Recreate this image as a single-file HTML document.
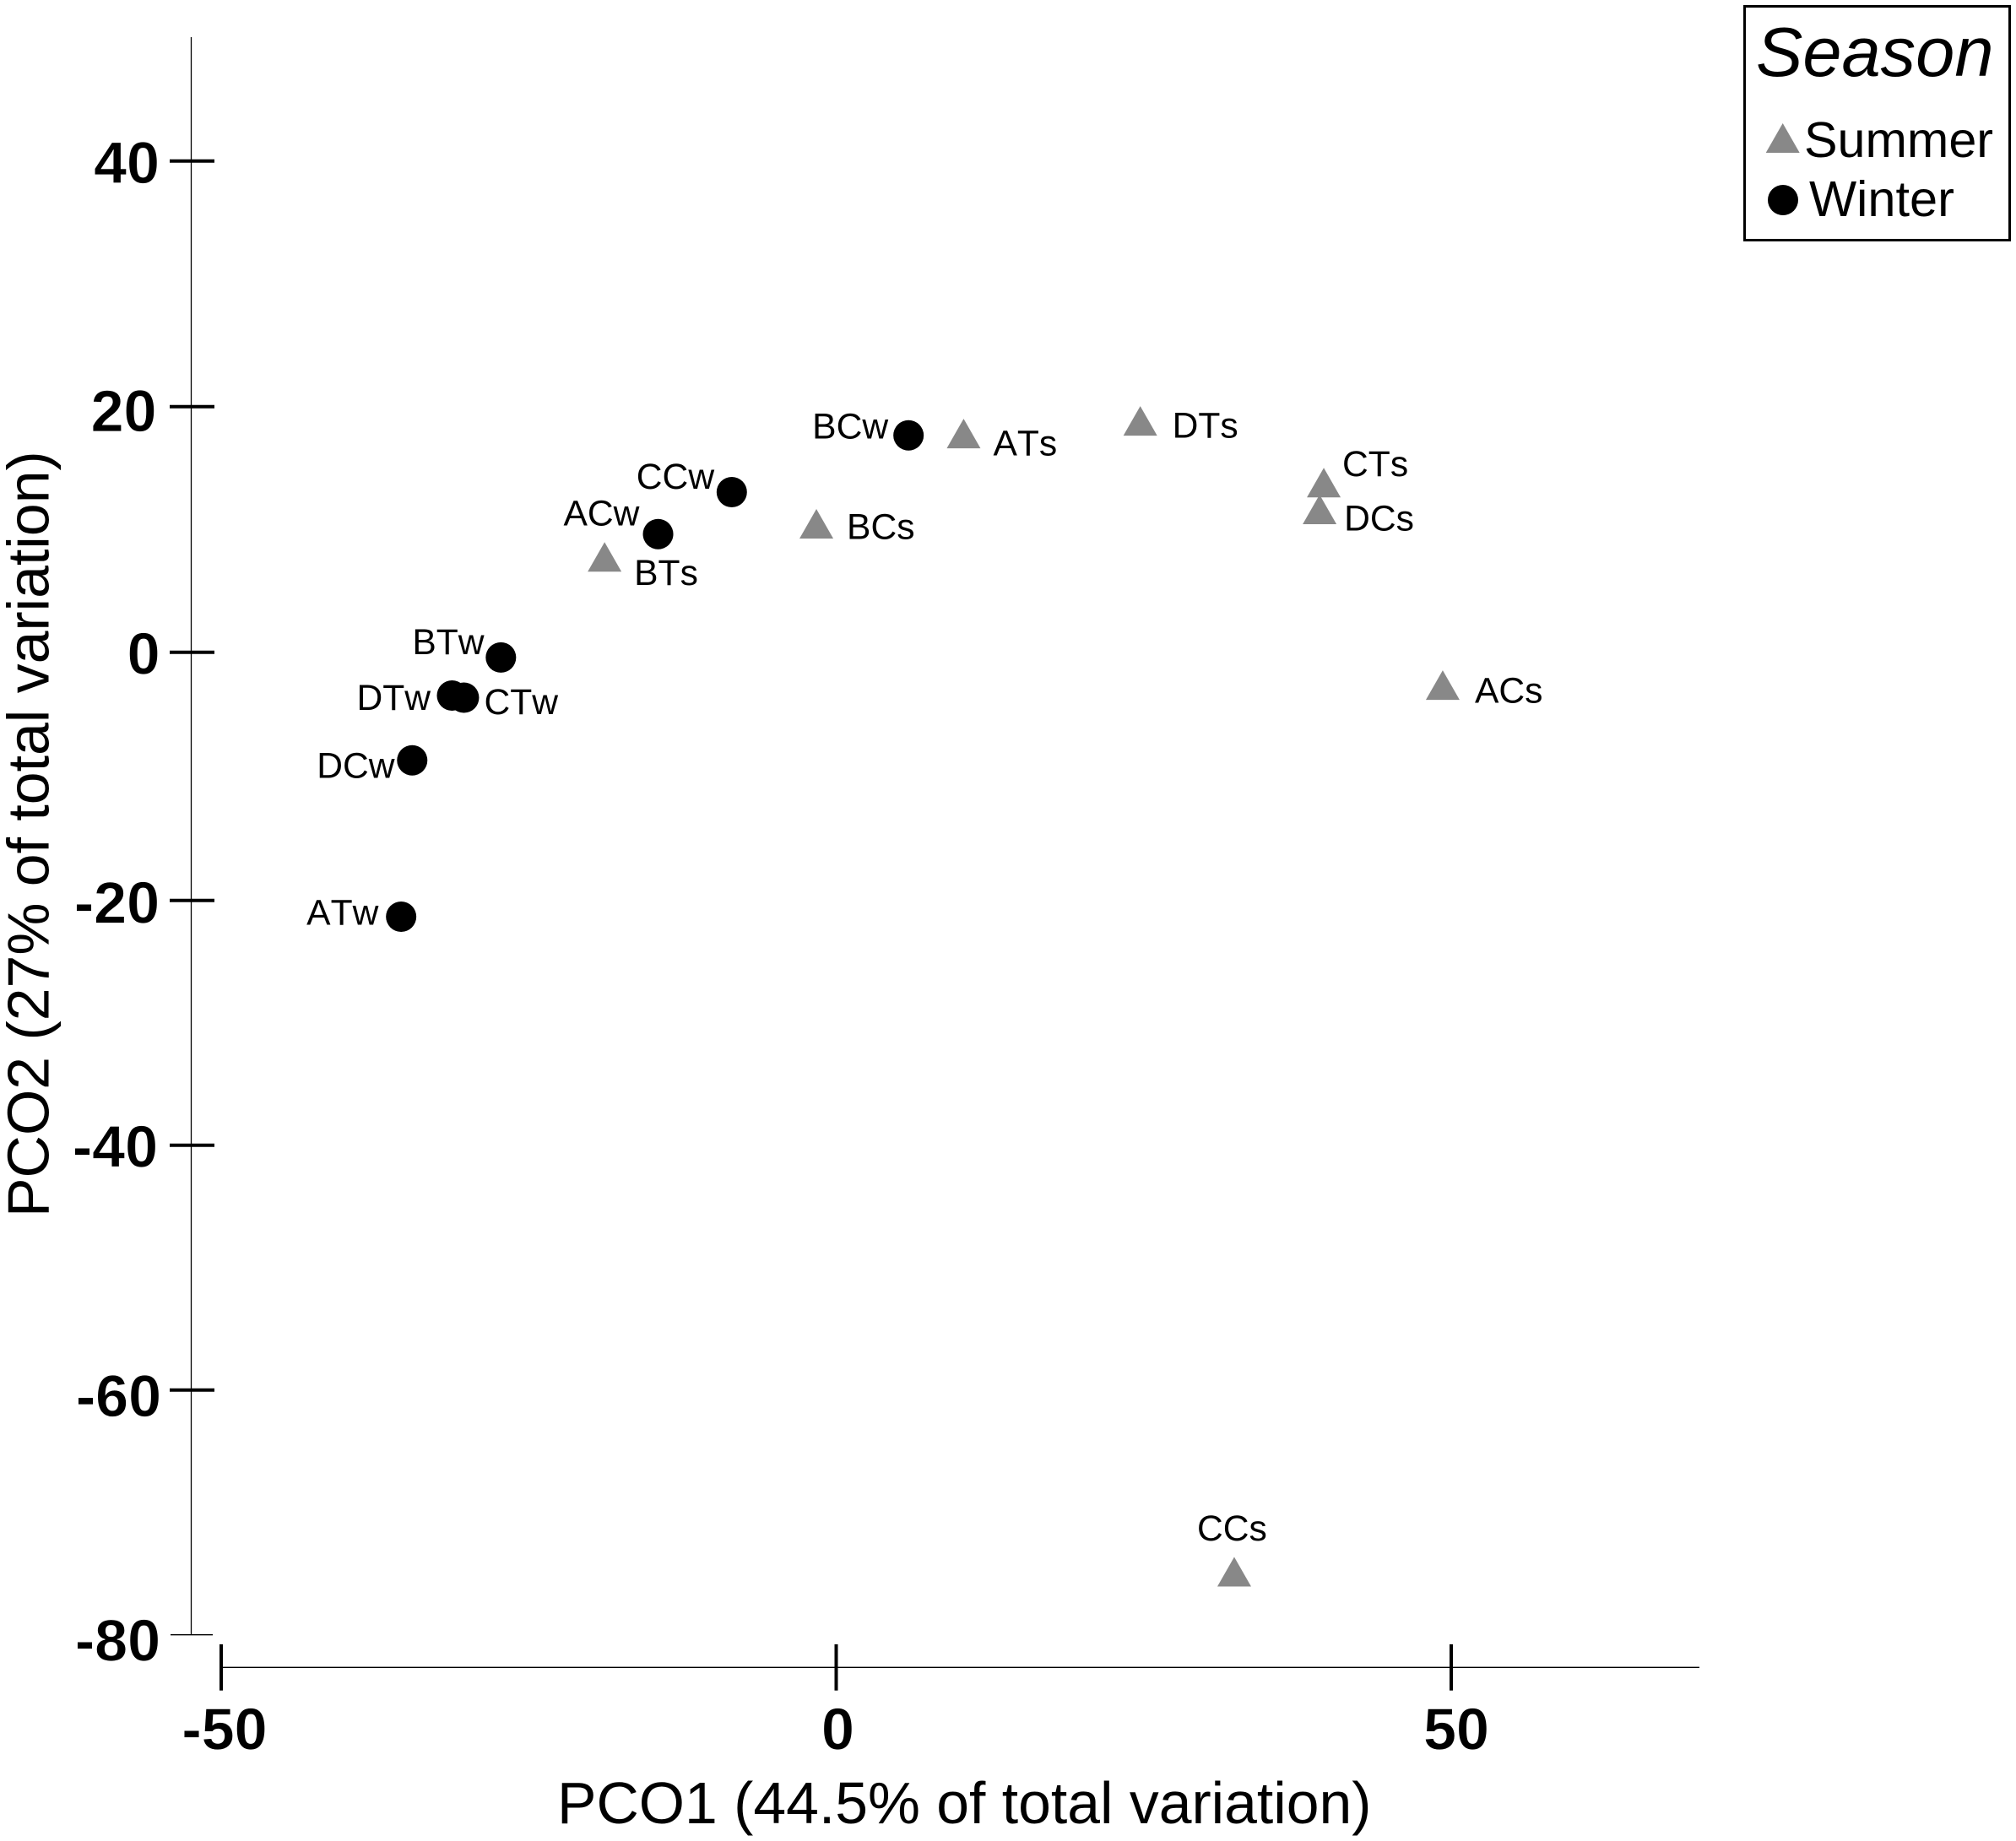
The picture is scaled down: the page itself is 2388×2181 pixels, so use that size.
<!DOCTYPE html>
<html lang="en">
<head>
<meta charset="utf-8">
<title>PCO ordination by season</title>
<style>
html,body{margin:0;padding:0;background:#fff;width:2388px;height:2181px;overflow:hidden}
svg{display:block;font-family:"Liberation Sans",Arial,sans-serif;font-kerning:none}
text{font-kerning:none}
</style>
</head>
<body>
<svg id="chart" xmlns="http://www.w3.org/2000/svg" width="2388" height="2181" viewBox="0 0 2388 2181">
  <rect x="0" y="0" width="2388" height="2181" fill="#fff"/>
  <line x1="226.5" y1="44" x2="226.5" y2="1937" stroke="#000" stroke-width="1.3"/>
  <line x1="262" y1="1975.3" x2="2013" y2="1975.3" stroke="#000" stroke-width="1.3"/>
  <g id="axes"></g>
  <g id="marks"></g>
  <text x="660" y="2160" font-size="69.7" fill="#000">PCO1 (44.5% of total variation)</text>
  <text transform="translate(57.3 1442) rotate(-90)" font-size="69.8" fill="#000">PCO2 (27% of total variation)</text>
  <g>
    <rect x="2066.5" y="7.5" width="314" height="277" fill="#fff" stroke="#000" stroke-width="3"/>
    <text x="2080" y="90" font-size="83" font-style="italic" fill="#000">Season</text>
    <polygon points="2111.7,146 2131.7,181 2091.7,181" fill="#888"/>
    <text x="2137" y="186" font-size="59.3" fill="#000">Summer</text>
    <circle cx="2112" cy="237" r="18" fill="#000"/>
    <text x="2143" y="256" font-size="59.5" fill="#000">Winter</text>
  </g>
</svg>
<script>
const xTicks = [-50, 0, 50];
const yTicks = [-80, -60, -40, -20, 0, 20, 40];

const winterNames = ['CCw', 'ACw', 'BTw', 'DTw', 'CTw', 'DCw', 'ATw', 'BCw'];
const winterPCO1 = [-8.49, -14.48, -27.26, -31.23, -30.27, -34.47, -35.37, 5.88];
const winterPCO2 = [13.04, 9.62, -0.42, -3.49, -3.66, -8.71, -21.33, 17.66];

const summerNames = ['BTs', 'ATs', 'DTs', 'BCs', 'CTs', 'DCs', 'ACs', 'CCs'];
const summerPCO1 = [-18.83, 10.36, 24.72, -1.61, 39.64, 39.3, 49.31, 32.36];
const summerPCO2 = [7.76, 17.81, 18.84, 10.46, 13.81, 11.63, -2.65, -74.85];

/* Layout only: label offset from its point, in px */
const labelOffset = {
  CCw: [-113, -4], ACw: [-112, -10], BTw: [-105, -4], DTw: [-113, 17],
  CTw: [24, 19.5], DCw: [-113, 21], ATw: [-112, 9.5], BCw: [-114, 3.6],
  BTs: [35, 33], ATs: [35, 25.7], DTs: [38, 20], BCs: [36, 18],
  CTs: [22, -7.7], DCs: [29, 25], ACs: [38, 21], CCs: [-44, -37]
};
/* Layout only: tick-label nudges [anchor x, baseline offset] */
const xLabelNudge = {'-50': 4, '0': 2, '50': 6};
const yLabelNudge = {
  '40': [189, 26.3], '20': [185.5, 29.3], '0': [189.5, 25.8], '-20': [189, 26.8],
  '-40': [187, 25.8], '-60': [191, 31.3], '-80': [190, 30.7]
};

const NS = 'http://www.w3.org/2000/svg';
const xOf = v => 990.5 + v * 14.57;
const yOf = v => v >= 0 ? 772.7 - v * 14.55
  : v >= -20 ? 772.7 - v * 14.7
  : 1066.7 - (v + 20) * 14.5;
const axes = document.getElementById('axes');
const marks = document.getElementById('marks');

function make(tag, attrs, parent, text) {
  const el = document.createElementNS(NS, tag);
  for (const k in attrs) el.setAttribute(k, attrs[k]);
  if (text !== undefined) el.textContent = text;
  parent.appendChild(el);
  return el;
}

xTicks.forEach(v => {
  const x = xOf(v);
  const tick = make('line', {x1: x, y1: 1948, x2: x, y2: 2002.7, stroke: '#000', 'stroke-width': 4}, axes);
  
  
  const label = make('text', {x: x + xLabelNudge[v], y: 2072.5, 'font-size': 70, 'font-weight': 'bold', 'text-anchor': 'middle', fill: '#000', stroke: '#fff', 'stroke-width': 0.7}, axes, String(v));
  
  
});

yTicks.forEach(v => {
  const y = yOf(v);
  const isEnd = v === yTicks[0];
  const tick = make('line', {x1: isEnd ? 202 : 201, y1: y, x2: isEnd ? 252 : 254, y2: y, stroke: '#000', 'stroke-width': isEnd ? 1.3 : 4}, axes);
  
  
  const label = make('text', {x: yLabelNudge[v][0], y: y + yLabelNudge[v][1], 'font-size': 70, 'font-weight': 'bold', 'text-anchor': 'end', fill: '#000', stroke: '#fff', 'stroke-width': 0.7}, axes, String(v));
  
  
});

summerNames.forEach((name, i) => {
  const x = xOf(summerPCO1[i]);
  const y = yOf(summerPCO2[i]);
  const tri = make('polygon', {points: `${x},${y - 17.5} ${x + 20},${y + 17.5} ${x - 20},${y + 17.5}`, fill: '#888'}, marks);
  
  
  const label = make('text', {x: x + labelOffset[name][0], y: y + labelOffset[name][1], 'font-size': 42.6, fill: '#000'}, marks, name);
  
  
});

winterNames.forEach((name, i) => {
  const x = xOf(winterPCO1[i]);
  const y = yOf(winterPCO2[i]);
  const dot = make('circle', {cx: x, cy: y, r: 18, fill: '#000'}, marks);
  
  
  const label = make('text', {x: x + labelOffset[name][0], y: y + labelOffset[name][1], 'font-size': 42.6, fill: '#000'}, marks, name);
  
  
});
</script>
</body>
</html>
